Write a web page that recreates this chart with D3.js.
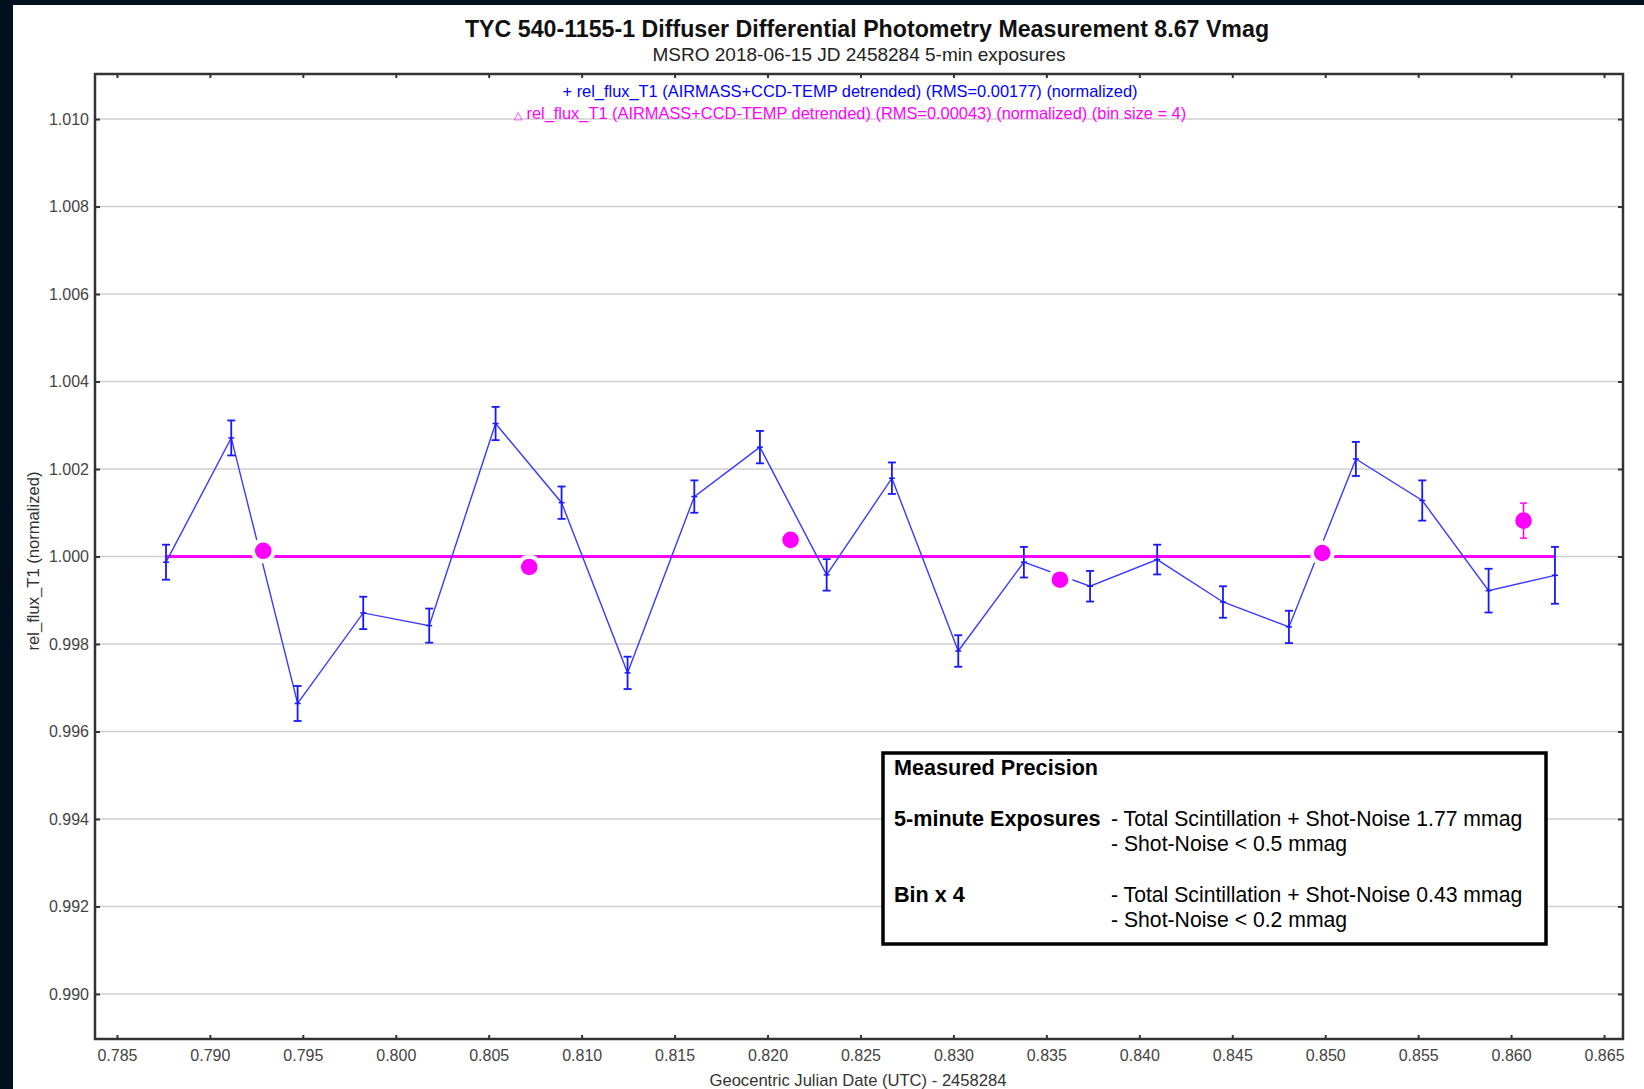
<!DOCTYPE html>
<html>
<head>
<meta charset="utf-8">
<script src="https://cdn.jsdelivr.net/npm/d3@7"></script>
<style>
  html, body { margin: 0; padding: 0; background: #00101e; }
  svg { display: block; }
  text { font-family: "Liberation Sans", Arial, sans-serif; }
</style>
</head>
<body>
<svg class="chart" width="1644" height="1089"></svg>
<script>
// 5-min exposures
const times = [0.78764, 0.79115, 0.79472, 0.79825, 0.80180, 0.80537, 0.80892, 0.81247, 0.81606, 0.81959, 0.82318,
               0.82669, 0.83026, 0.83379, 0.83735, 0.84096, 0.84450, 0.84805, 0.85165, 0.85522, 0.85879, 0.86236];
const flux = [0.99987, 1.00271, 0.99664, 0.99871, 0.99842, 1.00304, 1.00123, 0.99734, 1.00137, 1.00250, 0.99958,
              1.00179, 0.99784, 0.99987, 0.99932, 0.99993, 0.99896, 0.99839, 1.00223, 1.00128, 0.99922, 0.99957];
const fluxErr = [0.00040, 0.00040, 0.00040, 0.00037, 0.00039, 0.00038, 0.00037, 0.00037, 0.00037, 0.00037, 0.00036,
                 0.00036, 0.00036, 0.00035, 0.00035, 0.00034, 0.00036, 0.00037, 0.00039, 0.00046, 0.00050, 0.00065];

// bin size = 4
const binTimes = [0.79287, 0.80718, 0.82124, 0.83573, 0.84984, 0.86067];
const binFlux = [1.00013, 0.99976, 1.00038, 0.99947, 1.00008, 1.00082];
const binErr = [null, null, null, null, null, 0.00040];

const baseline = 1.000;

const xTicks = [0.785, 0.790, 0.795, 0.800, 0.805, 0.810, 0.815, 0.820, 0.825, 0.830, 0.835, 0.840, 0.845, 0.850, 0.855, 0.860, 0.865];
const yTicks = [0.990, 0.992, 0.994, 0.996, 0.998, 1.000, 1.002, 1.004, 1.006, 1.008, 1.010];

const precisionRows = [
    ["Measured Precision", ""],
    ["", ""],
    ["5-minute Exposures", "- Total Scintillation + Shot-Noise 1.77 mmag"],
    ["", "- Shot-Noise < 0.5 mmag"],
    ["", ""],
    ["Bin x 4", "- Total Scintillation + Shot-Noise 0.43 mmag"],
    ["", "- Shot-Noise < 0.2 mmag"]
];

const margin = {top: 74, right: 21, bottom: 50, left: 95};
const width = 1644, height = 1089;
const chart_dimensions = {
    width: width - margin.left - margin.right,
    height: height - margin.top - margin.bottom
};

const x_jd = d3.scaleLinear().domain([0.78382, 0.86602]).range([0, chart_dimensions.width]);
const y_flux = d3.scaleLinear().domain([0.98897, 1.01103]).range([chart_dimensions.height, 0]);

const svg = d3.select(".chart");

// white page with the dark strips on the left and top
svg.append("rect")
    .attr("x", 13).attr("y", 5)
    .attr("width", width - 13).attr("height", height - 5)
    .attr("fill", "#ffffff");

svg.append("text")
    .attr("x", 867).attr("y", 37)
    .attr("text-anchor", "middle")
    .attr("font-size", 23.2)
    .attr("font-weight", "bold")
    .attr("fill", "#111")
    .text("TYC 540-1155-1 Diffuser Differential Photometry Measurement 8.67 Vmag");

svg.append("text")
    .attr("x", 859).attr("y", 61)
    .attr("text-anchor", "middle")
    .attr("font-size", 19)
    .attr("fill", "#222")
    .text("MSRO 2018-06-15 JD 2458284 5-min exposures");

const plot = svg.append("g")
    .attr("transform", "translate(" + margin.left + "," + margin.top + ")");

// horizontal grid
plot.append("g")
    .selectAll("line").data(yTicks)
    .enter()
    .append("line")
    .attr("x1", 0)
    .attr("x2", chart_dimensions.width)
    .attr("y1", function(d) { return y_flux(d); })
    .attr("y2", function(d) { return y_flux(d); })
    .attr("stroke", "#cfcfcf")
    .attr("stroke-width", 1.6);

// axes with inside ticks
const fmt = d3.format(".3f");
plot.append("g")
    .attr("class", "x-axis")
    .attr("transform", "translate(0," + chart_dimensions.height + ")")
    .call(d3.axisBottom(x_jd).tickValues(xTicks).tickFormat(fmt).tickSizeInner(-4).tickSizeOuter(0).tickPadding(11));
plot.append("g")
    .attr("class", "x-axis")
    .call(d3.axisTop(x_jd).tickValues(xTicks).tickFormat("").tickSizeInner(-4).tickSizeOuter(0));
plot.append("g")
    .attr("class", "y-axis")
    .call(d3.axisLeft(y_flux).tickValues(yTicks).tickFormat(fmt).tickSizeInner(-5).tickSizeOuter(0).tickPadding(6));
plot.append("g")
    .attr("class", "y-axis")
    .attr("transform", "translate(" + chart_dimensions.width + ",0)")
    .call(d3.axisRight(y_flux).tickValues(yTicks).tickFormat("").tickSizeInner(-5).tickSizeOuter(0));

plot.selectAll(".x-axis path, .y-axis path").remove();
plot.selectAll(".x-axis line, .y-axis line").attr("stroke", "#333").attr("stroke-width", 2);
plot.selectAll(".x-axis text, .y-axis text")
    .attr("font-size", 16)
    .attr("font-family", "'Liberation Sans', Arial, sans-serif")
    .attr("fill", "#444");

plot.append("rect")
    .attr("x", 0).attr("y", 0)
    .attr("width", chart_dimensions.width)
    .attr("height", chart_dimensions.height)
    .attr("fill", "none")
    .attr("stroke", "#333")
    .attr("stroke-width", 2.5);

// magenta reference line at 1.000
plot.append("line")
    .attr("x1", x_jd(times[0]))
    .attr("x2", x_jd(times[times.length - 1]))
    .attr("y1", y_flux(baseline))
    .attr("y2", y_flux(baseline))
    .attr("stroke", "#ff00ff")
    .attr("stroke-width", 3);

// blue series
const points = times.map(function(t, i) { return {t: t, f: flux[i], e: fluxErr[i]}; });

plot.append("path")
    .datum(points)
    .attr("fill", "none")
    .attr("stroke", "#3a3aff")
    .attr("stroke-width", 1.4)
    .attr("d", d3.line().x(function(d) { return x_jd(d.t); }).y(function(d) { return y_flux(d.f); }));

const bars = plot.append("g")
    .attr("stroke", "#1818ff")
    .attr("stroke-width", 1.8)
    .selectAll("g").data(points)
    .enter()
    .append("g");
bars.append("line")
    .attr("x1", function(d) { return x_jd(d.t); })
    .attr("x2", function(d) { return x_jd(d.t); })
    .attr("y1", function(d) { return y_flux(d.f - d.e); })
    .attr("y2", function(d) { return y_flux(d.f + d.e); });
bars.append("line")
    .attr("x1", function(d) { return x_jd(d.t) - 4; })
    .attr("x2", function(d) { return x_jd(d.t) + 4; })
    .attr("y1", function(d) { return y_flux(d.f - d.e); })
    .attr("y2", function(d) { return y_flux(d.f - d.e); });
bars.append("line")
    .attr("x1", function(d) { return x_jd(d.t) - 4; })
    .attr("x2", function(d) { return x_jd(d.t) + 4; })
    .attr("y1", function(d) { return y_flux(d.f + d.e); })
    .attr("y2", function(d) { return y_flux(d.f + d.e); });
bars.append("line")
    .attr("x1", function(d) { return x_jd(d.t) - 3; })
    .attr("x2", function(d) { return x_jd(d.t) + 3; })
    .attr("y1", function(d) { return y_flux(d.f); })
    .attr("y2", function(d) { return y_flux(d.f); })
    .attr("stroke-width", 1.5);

// binned series: white halo first so the lines break around each dot
const bins = binTimes.map(function(t, i) { return {t: t, f: binFlux[i], e: binErr[i]}; });

plot.append("g")
    .selectAll("circle").data(bins)
    .enter()
    .append("circle")
    .attr("cx", function(d) { return x_jd(d.t); })
    .attr("cy", function(d) { return y_flux(d.f); })
    .attr("r", 12.5)
    .attr("fill", "#ffffff");

const binBars = plot.append("g")
    .attr("stroke", "#ff00ff")
    .attr("stroke-width", 1.5)
    .selectAll("g").data(bins.filter(function(d) { return d.e !== null; }))
    .enter()
    .append("g");
binBars.append("line")
    .attr("x1", function(d) { return x_jd(d.t); })
    .attr("x2", function(d) { return x_jd(d.t); })
    .attr("y1", function(d) { return y_flux(d.f - d.e); })
    .attr("y2", function(d) { return y_flux(d.f + d.e); });
binBars.append("line")
    .attr("x1", function(d) { return x_jd(d.t) - 3.5; })
    .attr("x2", function(d) { return x_jd(d.t) + 3.5; })
    .attr("y1", function(d) { return y_flux(d.f - d.e); })
    .attr("y2", function(d) { return y_flux(d.f - d.e); });
binBars.append("line")
    .attr("x1", function(d) { return x_jd(d.t) - 3.5; })
    .attr("x2", function(d) { return x_jd(d.t) + 3.5; })
    .attr("y1", function(d) { return y_flux(d.f + d.e); })
    .attr("y2", function(d) { return y_flux(d.f + d.e); });

plot.append("g")
    .selectAll("circle").data(bins)
    .enter()
    .append("circle")
    .attr("cx", function(d) { return x_jd(d.t); })
    .attr("cy", function(d) { return y_flux(d.f); })
    .attr("r", 8.3)
    .attr("fill", "#ff00ff");

// legend lines at the top of the plot
svg.append("text")
    .attr("x", 850).attr("y", 97)
    .attr("text-anchor", "middle")
    .attr("font-size", 16.4)
    .attr("fill", "#0000ff")
    .text("+ rel_flux_T1 (AIRMASS+CCD-TEMP detrended) (RMS=0.00177) (normalized)");

const magLegend = svg.append("text")
    .attr("x", 850).attr("y", 119)
    .attr("text-anchor", "middle")
    .attr("font-size", 16.4)
    .attr("fill", "#ff00ff");
magLegend.append("tspan").attr("font-size", 11).text("\u25B3");
magLegend.append("tspan").text(" rel_flux_T1 (AIRMASS+CCD-TEMP detrended) (RMS=0.00043) (normalized) (bin size = 4)");

// axis titles
svg.append("text")
    .attr("x", 858).attr("y", 1086)
    .attr("text-anchor", "middle")
    .attr("font-size", 16.6)
    .attr("fill", "#333")
    .text("Geocentric Julian Date (UTC) - 2458284");

svg.append("text")
    .attr("transform", "translate(39,561) rotate(-90)")
    .attr("text-anchor", "middle")
    .attr("font-size", 16.6)
    .attr("fill", "#333")
    .text("rel_flux_T1 (normalized)");

// Measured Precision box
const box = svg.append("g").attr("transform", "translate(883,753)");
box.append("rect")
    .attr("width", 663)
    .attr("height", 191)
    .attr("fill", "#ffffff")
    .attr("stroke", "#000")
    .attr("stroke-width", 3.5);

const rows = box.selectAll("g.row").data(precisionRows)
    .enter()
    .append("g")
    .attr("class", "row")
    .attr("transform", function(d, i) { return "translate(0," + (22 + i * 25.3) + ")"; });
rows.append("text")
    .attr("x", 11)
    .attr("font-size", 21.6)
    .attr("font-weight", "bold")
    .attr("fill", "#000")
    .text(function(d) { return d[0]; });
rows.append("text")
    .attr("x", 228)
    .attr("font-size", 21.2)
    .attr("fill", "#000")
    .text(function(d) { return d[1]; });
</script>
</body>
</html>
